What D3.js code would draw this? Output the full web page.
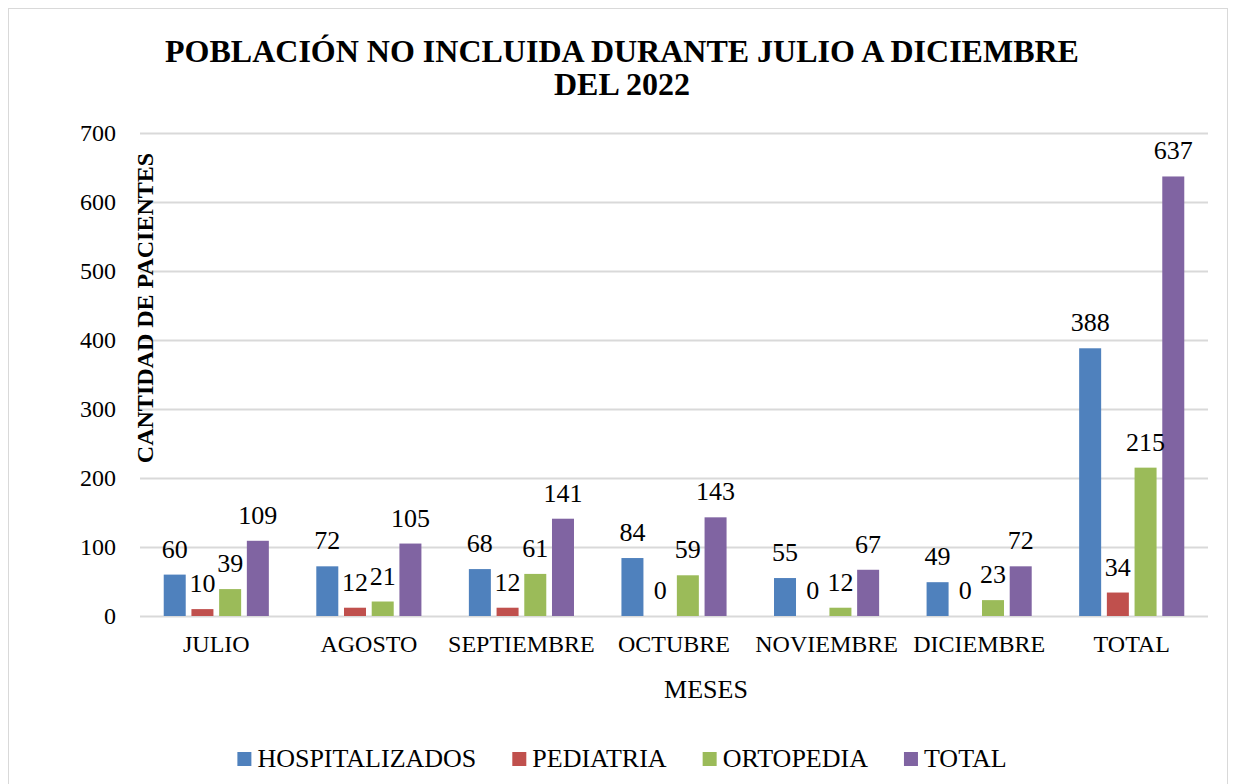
<!DOCTYPE html>
<html>
<head>
<meta charset="utf-8">
<script src="https://cdn.jsdelivr.net/npm/d3@7"></script>
<style>
  body { margin: 0; background: #fff; }
  svg text { font-family: "Liberation Serif", "Times New Roman", serif !important; fill: #000; }
</style>
</head>
<body>
<div id="chart"></div>
<script>
var meses = ["JULIO", "AGOSTO", "SEPTIEMBRE", "OCTUBRE", "NOVIEMBRE", "DICIEMBRE", "TOTAL"];
var series = ["HOSPITALIZADOS", "PEDIATRIA", "ORTOPEDIA", "TOTAL"];
var hospitalizados = [60, 72, 68, 84, 55, 49, 388];
var pediatria = [10, 12, 12, 0, 0, 0, 34];
var ortopedia = [39, 21, 61, 59, 12, 23, 215];
var totales = [109, 105, 141, 143, 67, 72, 637];
var yTicks = [0, 100, 200, 300, 400, 500, 600, 700];
var colores = ["#4f81bd", "#c0504d", "#9bbb59", "#8064a2"];

var fuente = "Liberation Serif, Times New Roman, serif";

var svgWidth = 1236;
var svgHeight = 784;

var margin = { top: 133, right: 28, bottom: 168, left: 140 };
var crtWidth = svgWidth - margin.left - margin.right;
var crtHeight = svgHeight - margin.top - margin.bottom;

var valores = [hospitalizados, pediatria, ortopedia, totales];
var datos = meses.map(function(m, i) {
  return { mes: m, vals: series.map(function(s, j) { return { serie: s, idx: j, v: valores[j][i] }; }) };
});

var svg = d3.select("#chart")
  .append("svg")
  .attr("width", svgWidth)
  .attr("height", svgHeight)
  .attr("font-family", fuente);

// marco
svg.append("rect")
  .attr("x", 8.5).attr("y", 8.5)
  .attr("width", svgWidth - 17).attr("height", svgHeight)
  .attr("fill", "none")
  .attr("stroke", "#d9d9d9");

var chartGroup = svg.append("g")
  .attr("transform", `translate(${margin.left}, ${margin.top})`);

var x0 = d3.scaleBand()
  .domain(meses)
  .range([0, crtWidth])
  .paddingInner(0.311)
  .paddingOuter(0.1555);

var x1 = d3.scaleBand()
  .domain(series)
  .range([0, x0.bandwidth()])
  .paddingInner(0.206);

var y = d3.scaleLinear()
  .domain([0, 700])
  .range([crtHeight, 0]);

// grid
chartGroup.append("g")
  .selectAll("line")
  .data(yTicks)
  .enter()
  .append("line")
  .attr("x1", 0)
  .attr("x2", crtWidth)
  .attr("y1", d => y(d) + 0.5)
  .attr("y2", d => y(d) + 0.5)
  .attr("stroke", "#d9d9d9")
  .attr("stroke-width", 2);

var yAxis = d3.axisLeft(y).tickValues(yTicks).tickSize(0).tickPadding(24);
var yG = chartGroup.append("g").call(yAxis).attr("font-family", fuente).attr("font-size", 24);
yG.select(".domain").remove();

var xAxis = d3.axisBottom(x0).tickSize(0).tickPadding(19);
var xG = chartGroup.append("g")
  .attr("transform", `translate(0, ${crtHeight})`)
  .call(xAxis)
  .attr("font-family", fuente)
  .attr("font-size", 24);
xG.select(".domain").remove();

var grupos = chartGroup.selectAll(".grupo")
  .data(datos)
  .enter()
  .append("g")
  .attr("class", "grupo")
  .attr("transform", d => `translate(${x0(d.mes)}, 0)`);

grupos.selectAll("rect")
  .data(d => d.vals)
  .enter()
  .append("rect")
  .attr("x", d => x1(d.serie))
  .attr("y", d => y(d.v))
  .attr("width", x1.bandwidth())
  .attr("height", d => crtHeight - y(d.v))
  .attr("fill", d => colores[d.idx]);

grupos.selectAll("text")
  .data(d => d.vals)
  .enter()
  .append("text")
  .attr("x", d => x1(d.serie) + x1.bandwidth() / 2)
  .attr("y", d => y(d.v) - 17)
  .attr("text-anchor", "middle")
  .attr("font-size", "26px")
  .text(d => d.v);

// titulo
svg.append("text")
  .attr("x", 622)
  .attr("y", 62)
  .attr("text-anchor", "middle")
  .attr("font-size", "32px")
  .attr("font-weight", "bold")
  .text("POBLACIÓN NO INCLUIDA DURANTE JULIO A DICIEMBRE");

svg.append("text")
  .attr("x", 622)
  .attr("y", 95)
  .attr("text-anchor", "middle")
  .attr("font-size", "32px")
  .attr("font-weight", "bold")
  .text("DEL 2022");

svg.append("text")
  .attr("transform", "translate(153, 308) rotate(-90)")
  .attr("text-anchor", "middle")
  .attr("font-size", "24px")
  .attr("font-weight", "bold")
  .text("CANTIDAD DE PACIENTES");

svg.append("text")
  .attr("x", 706)
  .attr("y", 698)
  .attr("text-anchor", "middle")
  .attr("font-size", "26px")
  .text("MESES");

// leyenda
var legend = svg.append("g");
var lx = 0;
series.forEach(function(s, i) {
  var item = legend.append("g").attr("transform", `translate(${lx}, 0)`);
  item.append("rect")
    .attr("x", 0).attr("y", 752)
    .attr("width", 14).attr("height", 14)
    .attr("fill", colores[i]);
  var t = item.append("text")
    .attr("x", 20).attr("y", 767)
    .attr("font-size", "26px")
    .text(s);
  lx += 20 + t.node().getComputedTextLength() + 36;
});
var lw = lx - 36;
legend.attr("transform", `translate(${622 - lw / 2}, 0)`);
</script>
</body>
</html>
